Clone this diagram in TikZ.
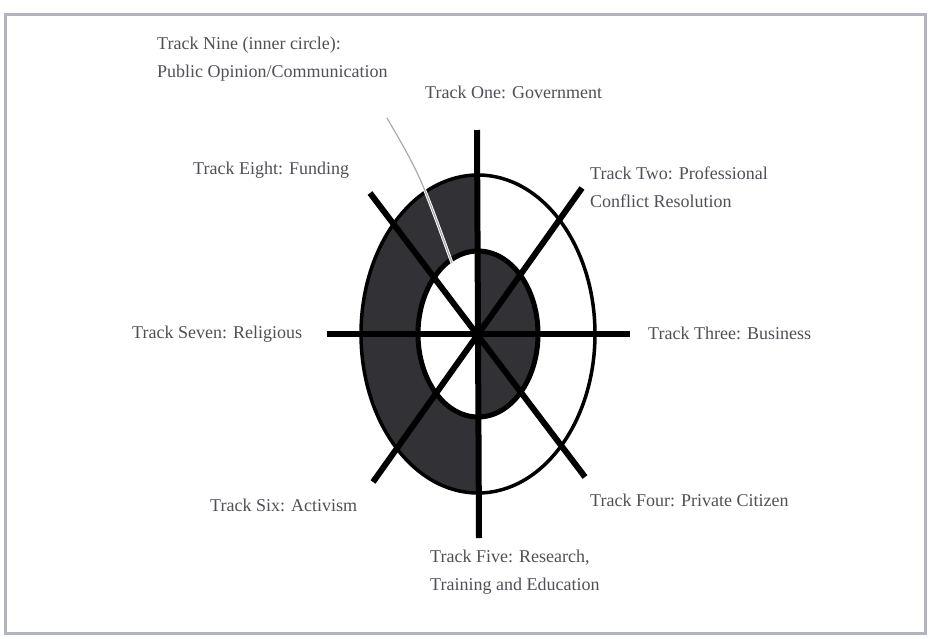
\documentclass[tikz,border=0pt]{standalone}
\usepackage{fontspec}
\setmainfont{Liberation Serif}
\definecolor{txt}{RGB}{80,80,88}
\definecolor{darkfill}{RGB}{50,50,54}
\definecolor{frame}{RGB}{178,180,190}
\definecolor{ptr}{RGB}{170,170,175}
\begin{document}
\begin{tikzpicture}[x=1pt,y=-1pt,
  lbl/.style={font=\fontsize{18}{28}\selectfont, text=txt, align=left, anchor=west, inner sep=0pt},
  spoke/.style={line width=6pt, black},
  ring/.style={black}]
\useasboundingbox (0,0) rectangle (929,638);
\fill[white] (0,0) rectangle (929,638);
\draw[frame, line width=3pt] (5,14) rectangle (925,633);
\coordinate (c) at (478,334);
% dark regions
\begin{scope}
  \clip (0,0) rectangle (478,638);
  \fill[darkfill] (c) ellipse [x radius=117, y radius=159];
  \fill[white] (c) ellipse [x radius=60, y radius=83];
\end{scope}
\begin{scope}
  \clip (478,0) rectangle (929,638);
  \fill[darkfill] (c) ellipse [x radius=60, y radius=83];
\end{scope}
\draw[ring, line width=3.5pt] (c) ellipse [x radius=117, y radius=159];
\draw[ring, line width=5pt] (c) ellipse [x radius=60, y radius=83];
% spokes
\coordinate (n) at (477,130);
\coordinate (s) at (479,538);
\coordinate (w) at (327,334);
\coordinate (e) at (630,334);
\coordinate (nw) at (370,193);
\coordinate (se) at (585,477);
\coordinate (ne) at (582,188);
\coordinate (sw) at (373,482);
\draw[spoke] (n) -- (s);
\draw[spoke] (w) -- (e);
\draw[spoke] (nw) -- (se);
\draw[spoke] (ne) -- (sw);
% pointer
\coordinate (p0) at (387,118);
\coordinate (p1) at (452,263);
\draw[white, line width=3pt] (p0) .. controls (420,175) .. (p1);
\draw[ptr, line width=1.2pt] (p0) .. controls (420,175) .. (p1);
% labels
\node[lbl] (nine) at (157,59) {Track Nine (inner circle):\\Public Opinion/Communication};
\node[lbl] (one) at (425,92) {Track One: Government};
\node[lbl] (two) at (590,187) {Track Two: Professional\\Conflict Resolution};
\node[lbl] (eight) at (193,170) {Track Eight: Funding};
\node[lbl] (seven) at (132,334) {Track Seven: Religious};
\node[lbl] (three) at (648,333) {Track Three: Business};
\node[lbl] (six) at (210,505) {Track Six: Activism};
\node[lbl] (four) at (590,500) {Track Four: Private Citizen};
\node[lbl] (five) at (430,572) {Track Five: Research,\\Training and Education};
\end{tikzpicture}
\end{document}
